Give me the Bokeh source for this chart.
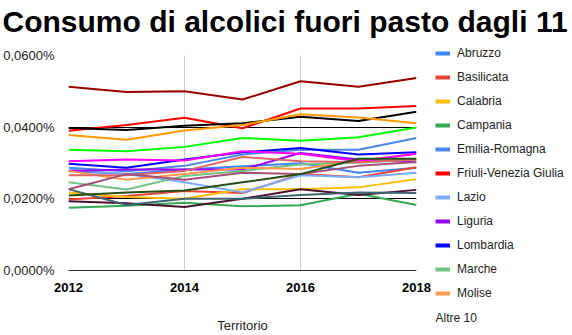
from bokeh.plotting import figure
from bokeh.models import (FixedTicker, CustomJSTickFormatter, Legend, LegendItem,
                          Range1d, Label)
from bokeh.layouts import column, row
from bokeh.embed import file_html
from bokeh.resources import INLINE

years = [2012, 2013, 2014, 2015, 2016, 2017, 2018]
x_ticks = [2012, 2014, 2016, 2018]
y_ticks = [0.0, 0.02, 0.04, 0.06]

title_text = "Consumo di alcolici fuori pasto dagli 11"
x_title = "Territorio"
others_label = "Altre 10"

# values in percent
abruzzo = [0.0277, 0.0269, 0.0282, 0.0291, 0.0299, 0.0273, 0.0287]
basilicata = [0.0198, 0.0208, 0.0222, 0.0216, 0.0269, 0.0260, 0.0288]
calabria = [0.0218, 0.0205, 0.0200, 0.0227, 0.0227, 0.0232, 0.0255]
campania = [0.0175, 0.0181, 0.0189, 0.0179, 0.0182, 0.0214, 0.0183]
emilia_romagna = [0.0287, 0.0277, 0.0292, 0.0324, 0.0337, 0.0337, 0.0370]
friuli = [0.0390, 0.0406, 0.0426, 0.0397, 0.0452, 0.0452, 0.0459]
lazio = [0.0282, 0.0269, 0.0246, 0.0218, 0.0266, 0.0260, 0.0273]
liguria = [0.0278, 0.0282, 0.0282, 0.0282, 0.0328, 0.0310, 0.0302]
lombardia = [0.0298, 0.0287, 0.0310, 0.0330, 0.0342, 0.0324, 0.0330]
marche = [0.0246, 0.0226, 0.0264, 0.0278, 0.0296, 0.0301, 0.0310]
molise = [0.0278, 0.0253, 0.0269, 0.0287, 0.0283, 0.0306, 0.0326]
piemonte = [0.0337, 0.0333, 0.0345, 0.0370, 0.0362, 0.0372, 0.0399]
bolzano = [0.0513, 0.0498, 0.0500, 0.0477, 0.0528, 0.0513, 0.0537]
trento = [0.0398, 0.0392, 0.0404, 0.0411, 0.0429, 0.0417, 0.0443]
puglia = [0.0193, 0.0188, 0.0177, 0.0200, 0.0227, 0.0211, 0.0225]
sardegna = [0.0305, 0.0310, 0.0307, 0.0333, 0.0326, 0.0305, 0.0326]
sicilia = [0.0227, 0.0183, 0.0200, 0.0200, 0.0211, 0.0218, 0.0216]
toscana = [0.0266, 0.0266, 0.0278, 0.0317, 0.0305, 0.0302, 0.0310]
umbria = [0.0227, 0.0269, 0.0253, 0.0273, 0.0269, 0.0292, 0.0303]
valle_aosta = [0.0378, 0.0365, 0.0391, 0.0406, 0.0436, 0.0427, 0.0411]
veneto = [0.0209, 0.0218, 0.0223, 0.0246, 0.0269, 0.0312, 0.0312]

series = [
    ("Abruzzo", abruzzo, "#4285F4"),
    ("Basilicata", basilicata, "#EA4335"),
    ("Calabria", calabria, "#FBBC04"),
    ("Campania", campania, "#34A853"),
    ("Emilia-Romagna", emilia_romagna, "#4A86E8"),
    ("Friuli-Venezia Giulia", friuli, "#FF0000"),
    ("Lazio", lazio, "#7BAAF7"),
    ("Liguria", liguria, "#9900FF"),
    ("Lombardia", lombardia, "#0000FF"),
    ("Marche", marche, "#71C287"),
    ("Molise", molise, "#FF994D"),
    ("Piemonte", piemonte, "#00FF00"),
    ("Provincia Autonoma Bolzano", bolzano, "#980000"),
    ("Provincia Autonoma Trento", trento, "#000000"),
    ("Puglia", puglia, "#4C1130"),
    ("Sardegna", sardegna, "#FF00FF"),
    ("Sicilia", sicilia, "#3D6470"),
    ("Toscana", toscana, "#E06666"),
    ("Umbria", umbria, "#A64D79"),
    ("Valle d'Aosta", valle_aosta, "#FF9900"),
    ("Veneto", veneto, "#274E13"),
]
n_legend = 11

FONT = "Liberation Sans"
W, H = 572, 335
TITLE_H = 46
MAIN_W = 433
BODY_H = H - TITLE_H
LEG_W = W - MAIN_W

# ---- title strip -------------------------------------------------------
pt = figure(width=W, height=TITLE_H, output_backend="svg", toolbar_location=None,
            x_range=Range1d(0, W), y_range=Range1d(0, TITLE_H),
            x_axis_location=None, y_axis_location=None, min_border=0)
pt.grid.visible = False
pt.outline_line_color = None
pt.add_layout(Label(x=2, y=TITLE_H - 21, text=title_text, text_font=FONT,
                    text_font_size="30px", text_font_style="bold",
                    text_color="#000000", text_baseline="alphabetic",
                    text_align="left"))

# ---- main chart --------------------------------------------------------
p = figure(width=MAIN_W, height=BODY_H, output_backend="svg",
           toolbar_location=None,
           x_range=Range1d(2012, 2018), y_range=Range1d(0, 0.06),
           min_border_left=66, min_border_right=MAIN_W - 416,
           min_border_top=9, min_border_bottom=62)
p.outline_line_color = None
p.background_fill_color = "white"
p.border_fill_color = "white"

p.xaxis.ticker = FixedTicker(ticks=x_ticks)
p.yaxis.ticker = FixedTicker(ticks=y_ticks)
p.yaxis.formatter = CustomJSTickFormatter(
    code="return tick.toFixed(4).replace('.', ',') + '%';")
p.xaxis.formatter = CustomJSTickFormatter(code="return tick.toFixed(0);")
for ax in (p.xaxis, p.yaxis):
    ax.major_tick_line_color = None
    ax.minor_tick_line_color = None
    ax.major_label_text_font = FONT
    ax.major_label_text_font_size = "13px"
    ax.major_label_text_color = "#222222"
p.yaxis.major_label_standoff = 8
p.xaxis.major_label_standoff = 6
p.yaxis.axis_line_color = None
p.xaxis.axis_line_color = "#333333"
p.xaxis.major_label_text_font_style = "bold"
p.xaxis.major_label_text_color = "#000000"
p.xaxis.axis_label = x_title
p.xaxis.axis_label_text_font = FONT
p.xaxis.axis_label_text_font_size = "13px"
p.xaxis.axis_label_text_font_style = "normal"
p.xaxis.axis_label_text_color = "#222222"
p.xaxis.axis_label_standoff = 23

p.xgrid.ticker = FixedTicker(ticks=x_ticks)
p.xgrid.grid_line_color = "#cccccc"
p.ygrid.ticker = FixedTicker(ticks=[0.02, 0.04])
p.ygrid.grid_line_color = "#000000"

for name, vals, color in series:
    p.line(years, vals, line_color=color, line_width=2, line_join="round")

# ---- legend strip ------------------------------------------------------
pl = figure(width=LEG_W, height=BODY_H, output_backend="svg",
            toolbar_location=None,
            x_range=Range1d(0, LEG_W), y_range=Range1d(0, BODY_H),
            x_axis_location=None, y_axis_location=None, min_border=0)
pl.grid.visible = False
pl.outline_line_color = None

nan = float("nan")
items = []
for name, vals, color in series[:n_legend]:
    r = pl.line(x=[nan], y=[nan], line_color=color, line_width=4)
    items.append(LegendItem(label=name, renderers=[r]))
leg_h = n_legend * 14 + (n_legend - 1) * 10
legend = Legend(items=items, location=(435 - MAIN_W, BODY_H - leg_h),
                padding=0, margin=0, spacing=10, glyph_width=15,
                glyph_height=14, label_height=14, label_standoff=7,
                label_text_font=FONT, label_text_font_size="12px",
                label_text_color="#222222", border_line_color=None,
                background_fill_alpha=0)
pl.add_layout(legend, "center")
pl.add_layout(Label(x=435 - MAIN_W, y=BODY_H - (317 - TITLE_H), text=others_label,
                    text_font=FONT, text_font_size="12px", text_color="#222222",
                    text_baseline="middle", text_align="left"))

layout = column(pt, row(p, column(pl, spacing=0), spacing=0), spacing=0)
open("out.html", "w").write(file_html(layout, INLINE))
